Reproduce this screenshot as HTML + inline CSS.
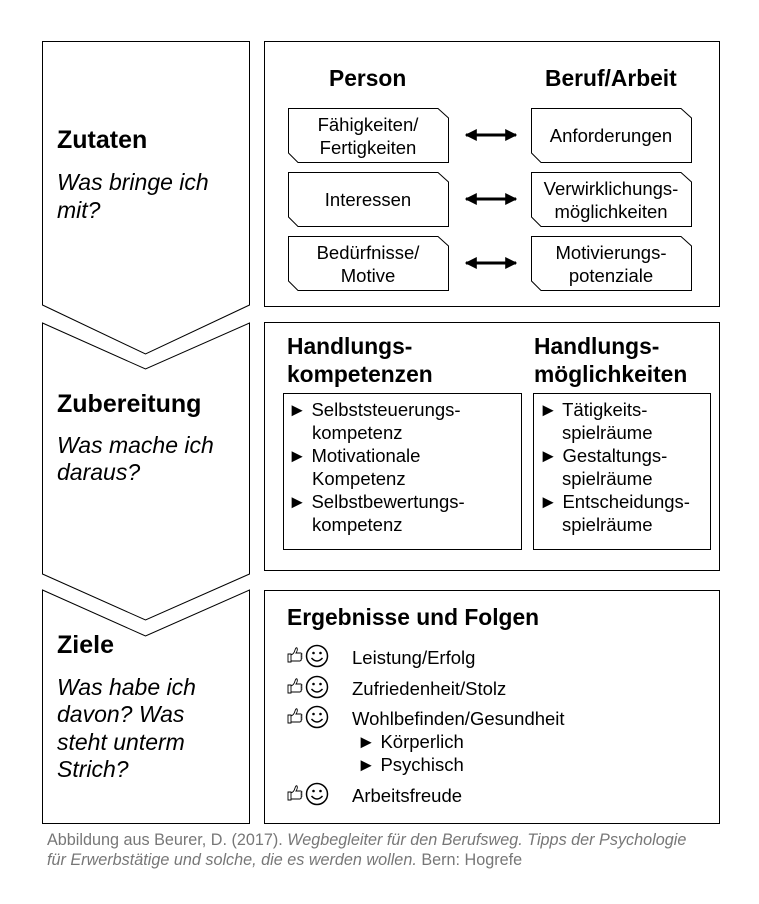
<!DOCTYPE html>
<html><head><meta charset="utf-8"><style>
html,body{margin:0;padding:0;background:#fff}
svg{display:block}
text{font-family:"Liberation Sans",Arial,sans-serif;fill:#000}
.b{font-weight:bold}
.i{font-style:italic}
</style></head><body>
<svg width="759" height="904" viewBox="0 0 759 904" xmlns="http://www.w3.org/2000/svg">
<defs>
<g id="ic">
 <path d="M1,8 l3,0 l0,8 l-3,0 z M4,9 q3,-1 4,-5 q1,-3 2,-2 q1,2 -1,5 l5,0 q2,1 0,2 q2,1 0,2 q2,1 0,2 q1,1 -1,2 l-9,0 z" fill="none" stroke="#000" stroke-width="0.9"/>
 <circle cx="30" cy="10" r="10.5" fill="none" stroke="#000" stroke-width="1.5"/>
 <circle cx="26.5" cy="7" r="1.3"/><circle cx="33.5" cy="7" r="1.3"/>
 <path d="M24.5,12 q5.5,6 11,0" fill="none" stroke="#000" stroke-width="1.5"/>
</g>
<marker id="ah" viewBox="0 0 10 10" refX="9" refY="5" markerWidth="4" markerHeight="4" orient="auto-start-reverse"><path d="M0,0 L10,5 L0,10 z"/></marker>
</defs>
<g fill="none" stroke="#000" stroke-width="1">
 <path d="M42.5,41.5 H249.5 V305 L145.5,354 L42.5,305 Z"/>
 <path d="M42.5,323 L145.5,369 L249.5,323 V574 L145.5,620 L42.5,574 Z"/>
 <path d="M42.5,590 L145.5,636 L249.5,590 V823.5 H42.5 Z"/>
 <rect x="264.5" y="41.5" width="455" height="265"/>
 <rect x="264.5" y="322.5" width="455" height="248"/>
 <rect x="264.5" y="590.5" width="455" height="233"/>
 <rect x="283.5" y="393.5" width="238" height="156"/>
 <rect x="533.5" y="393.5" width="177" height="156"/>
 <path d="M288.5,108.5 H438 L448.5,118 V162.5 H298 L288.5,153 Z"/>
 <path d="M288.5,172.5 H438 L448.5,182 V226.5 H298 L288.5,217 Z"/>
 <path d="M288.5,236.5 H438 L448.5,246 V290.5 H298 L288.5,281 Z"/>
 <path d="M531.5,108.5 H681 L691.5,118 V162.5 H541 L531.5,153 Z"/>
 <path d="M531.5,172.5 H681 L691.5,182 V226.5 H541 L531.5,217 Z"/>
 <path d="M531.5,236.5 H681 L691.5,246 V290.5 H541 L531.5,281 Z"/>
</g>
<g stroke="#000" stroke-width="3">
 <line x1="466" y1="135" x2="516" y2="135" marker-start="url(#ah)" marker-end="url(#ah)"/>
 <line x1="466" y1="199" x2="516" y2="199" marker-start="url(#ah)" marker-end="url(#ah)"/>
 <line x1="466" y1="263" x2="516" y2="263" marker-start="url(#ah)" marker-end="url(#ah)"/>
</g>
<g font-size="23">
 <text x="57" y="148" class="b" font-size="25">Zutaten</text>
 <text x="57" y="190" class="i">Was bringe ich</text>
 <text x="57" y="218" class="i">mit?</text>
 <text x="57" y="412" class="b" font-size="25">Zubereitung</text>
 <text x="57" y="453" class="i">Was mache ich</text>
 <text x="57" y="480" class="i">daraus?</text>
 <text x="57" y="653" class="b" font-size="25">Ziele</text>
 <text x="57" y="695" class="i">Was habe ich</text>
 <text x="57" y="722" class="i">davon? Was</text>
 <text x="57" y="750" class="i">steht unterm</text>
 <text x="57" y="777" class="i">Strich?</text>
</g>
<g font-size="22.8">
 <text x="329" y="86" class="b">Person</text>
 <text x="545" y="86" class="b">Beruf/Arbeit</text>
 <text x="287" y="354" class="b">Handlungs-</text>
 <text x="287" y="382" class="b">kompetenzen</text>
 <text x="534" y="354" class="b">Handlungs-</text>
 <text x="534" y="382" class="b">möglichkeiten</text>
 <text x="287" y="625" class="b">Ergebnisse und Folgen</text>
</g>
<g font-size="18.5" text-anchor="middle">
 <text x="368" y="131">Fähigkeiten/</text><text x="368" y="154">Fertigkeiten</text>
 <text x="368" y="206">Interessen</text>
 <text x="368" y="259">Bedürfnisse/</text><text x="368" y="282">Motive</text>
 <text x="611" y="142">Anforderungen</text>
 <text x="611" y="195">Verwirklichungs-</text><text x="611" y="218">möglichkeiten</text>
 <text x="611" y="259">Motivierungs-</text><text x="611" y="282">potenziale</text>
</g>
<g font-size="18.5">
 <text x="288" y="416">► Selbststeuerungs-</text><text x="312" y="439">kompetenz</text>
 <text x="288" y="462">► Motivationale</text><text x="312" y="485">Kompetenz</text>
 <text x="288" y="508">► Selbstbewertungs-</text><text x="312" y="531">kompetenz</text>
 <text x="539" y="416">► Tätigkeits-</text><text x="562" y="439">spielräume</text>
 <text x="539" y="462">► Gestaltungs-</text><text x="562" y="485">spielräume</text>
 <text x="539" y="508">► Entscheidungs-</text><text x="562" y="531">spielräume</text>
 <text x="352" y="664">Leistung/Erfolg</text>
 <text x="352" y="695">Zufriedenheit/Stolz</text>
 <text x="352" y="725">Wohlbefinden/Gesundheit</text>
 <text x="357" y="748">►  Körperlich</text>
 <text x="357" y="771">►  Psychisch</text>
 <text x="352" y="802">Arbeitsfreude</text>
</g>
<use href="#ic" x="287" y="646"/>
<use href="#ic" x="287" y="677"/>
<use href="#ic" x="287" y="707"/>
<use href="#ic" x="287" y="784"/>
<g font-size="16.2">
 <text x="47" y="845" style="fill:#777">Abbildung aus Beurer, D. (2017). <tspan class="i" style="fill:#777">Wegbegleiter für den Berufsweg. Tipps der Psychologie</tspan></text>
 <text x="47" y="865" style="fill:#777"><tspan class="i" style="fill:#777">für Erwerbstätige und solche, die es werden wollen.</tspan> Bern: Hogrefe</text>
</g>
</svg>
</body></html>
